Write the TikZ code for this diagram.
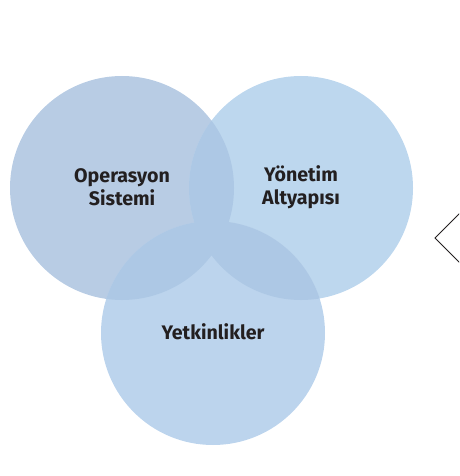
\documentclass[tikz,border=0pt]{standalone}
\usepackage{fontspec}
\setmainfont{Fira Sans}
\definecolor{opsblue}{HTML}{B8CCE4}
\definecolor{yonblue}{HTML}{BDD7EE}
\definecolor{yetblue}{HTML}{BCD4ED}
\definecolor{lensblue}{HTML}{ADC8E5}
\definecolor{ink}{HTML}{231F20}

\begin{document}
\begin{tikzpicture}[
  x=1pt,y=-1pt,
  set/.style={circle,minimum size=224pt,inner sep=0pt},
  lens/.style={fill=lensblue},
  lbl/.style={text=ink,align=center,font=\bfseries\fontsize{19.6}{23}\selectfont},
  chev/.style={draw=ink,line width=1pt,line join=miter}
]
  \useasboundingbox (0,0) rectangle (459,476);
  \clip (0,0) rectangle (459,476);

  \node[set,fill=opsblue] (ops) at (122,188) {};
  \node[set,fill=yonblue] (yon) at (301,188) {};
  \node[set,fill=yetblue] (yet) at (213,333) {};

  % shared areas
  \begin{scope}
    \clip (ops) circle[radius=112pt];
    \fill[lens] (yon) circle[radius=112pt];
    \fill[lens] (yet) circle[radius=112pt];
  \end{scope}
  \begin{scope}
    \clip (yon) circle[radius=112pt];
    \fill[lens] (yet) circle[radius=112pt];
  \end{scope}

  \node[lbl] (opslbl) at (122,187) {Operasyon\\Sistemi};
  \node[lbl] (yonlbl) at (301,187) {Yönetim\\Altyapısı};
  \node[lbl] (yetlbl) at (213,332) {Yetkinlikler};

  \draw[chev] (463,210) -- (435,238) -- (463,266);
\end{tikzpicture}
\end{document}
